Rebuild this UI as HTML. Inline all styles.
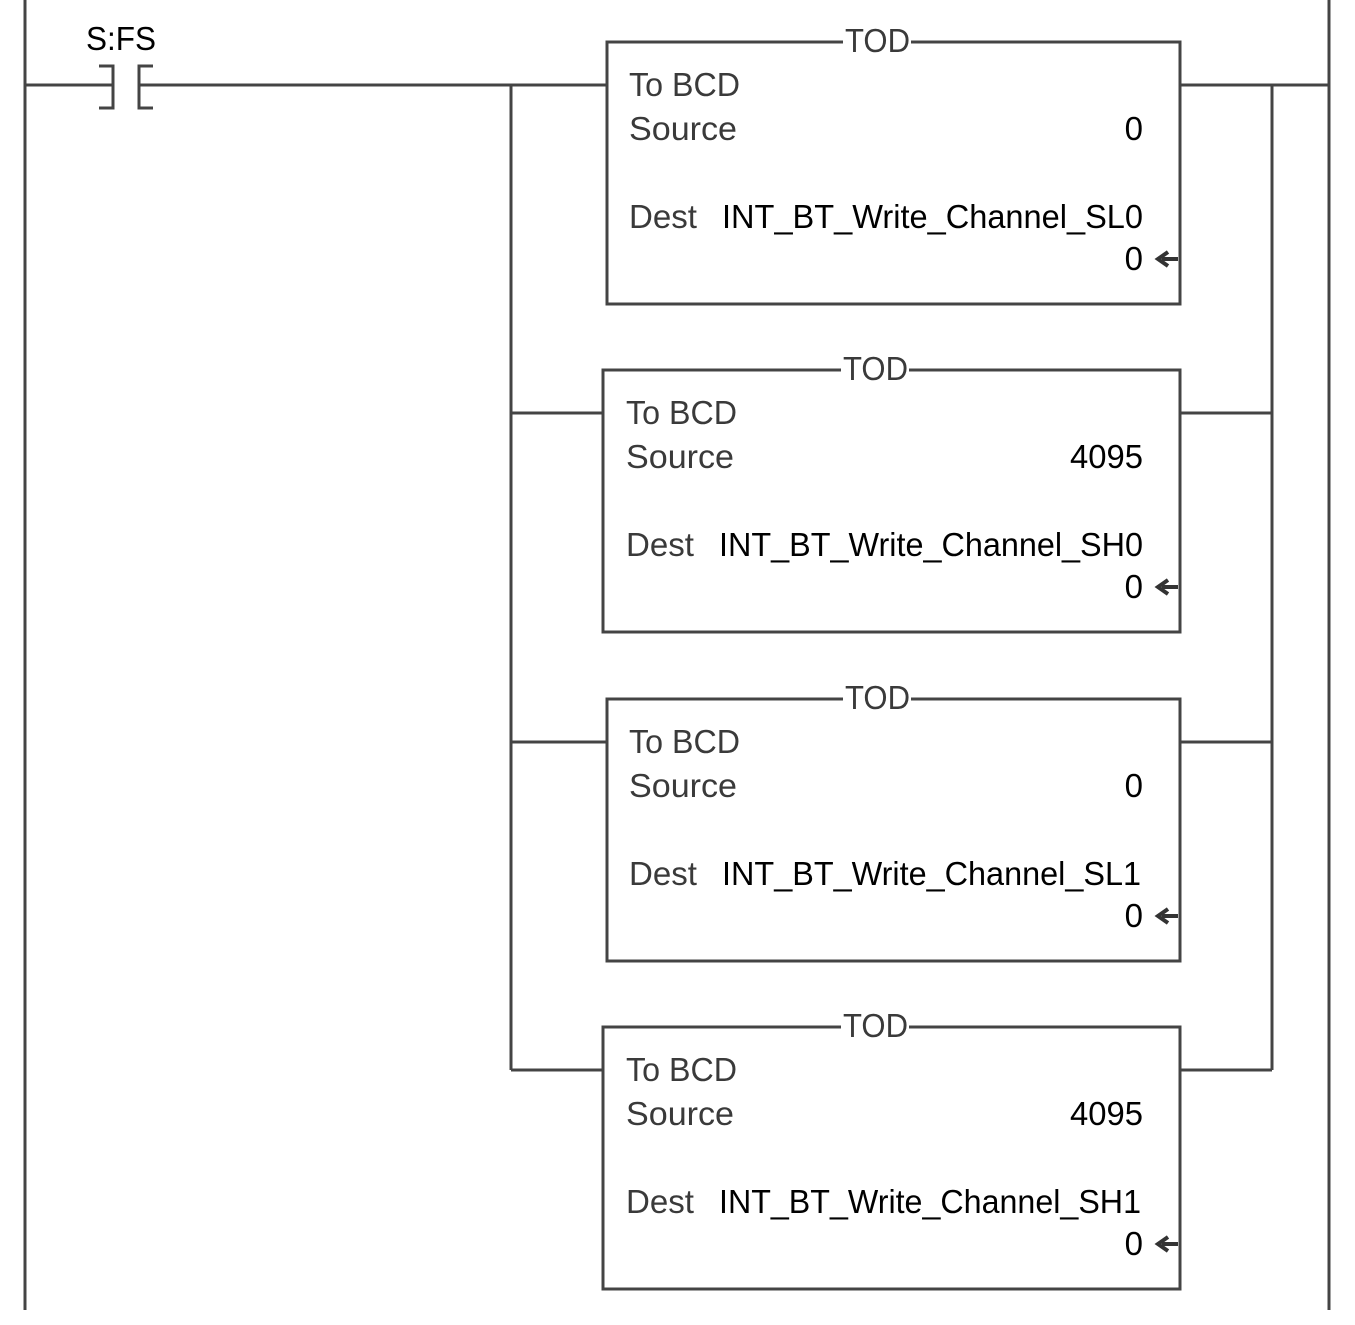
<!DOCTYPE html>
<html><head><meta charset="utf-8"><style>
html,body{margin:0;padding:0;background:#fff;}
svg{display:block;}
text{font-family:"Liberation Sans",Arial,sans-serif;font-size:33px;}
.l{fill:#3a3a3a;}
.v{fill:#000;}
</style></head><body>
<svg width="1355" height="1325" viewBox="0 0 1355 1325" xmlns="http://www.w3.org/2000/svg">
<g stroke="#444" stroke-width="3" fill="none">
<line x1="25" y1="0" x2="25" y2="1310"/>
<line x1="1329" y1="0" x2="1329" y2="1310"/>
<line x1="25" y1="85" x2="113" y2="85"/>
<polyline points="99,66 113,66 113,108 99,108"/>
<polyline points="153,66 139,66 139,108 153,108"/>
<line x1="139" y1="85" x2="607" y2="85"/>
<line x1="511" y1="85" x2="511" y2="1070"/>
<line x1="1180" y1="85" x2="1329" y2="85"/>
<line x1="1272" y1="85" x2="1272" y2="1070"/>
<line x1="511" y1="413" x2="603" y2="413"/>
<line x1="1180" y1="413" x2="1272" y2="413"/>
<line x1="511" y1="742" x2="607" y2="742"/>
<line x1="1180" y1="742" x2="1272" y2="742"/>
<line x1="511" y1="1070" x2="603" y2="1070"/>
<line x1="1180" y1="1070" x2="1272" y2="1070"/>
<rect x="607" y="42" width="573" height="262"/>
<rect x="603" y="370" width="577" height="262"/>
<rect x="607" y="699" width="573" height="262"/>
<rect x="603" y="1027" width="577" height="262"/>
</g>
<text x="86" y="50" class="v" textLength="70" lengthAdjust="spacingAndGlyphs">S:FS</text>

<g>
<rect x="843" y="30" width="68" height="20" fill="#fff"/>
<text x="845" y="52" class="l" textLength="65" lengthAdjust="spacingAndGlyphs">TOD</text>
<text x="629" y="96" class="l" textLength="111" lengthAdjust="spacingAndGlyphs">To BCD</text>
<text x="629" y="140" class="l" textLength="108" lengthAdjust="spacingAndGlyphs">Source</text>
<text x="1143" y="140" class="v" text-anchor="end">0</text>
<text x="629" y="228" class="l" textLength="68" lengthAdjust="spacingAndGlyphs">Dest</text>
<text x="722" y="228" class="v" textLength="421" lengthAdjust="spacingAndGlyphs">INT_BT_Write_Channel_SL0</text>
<text x="1143" y="270" class="v" text-anchor="end">0</text>
<path d="M1178 259 H1162 M1168 252 L1158 259 L1168 266" stroke="#333" stroke-width="4" fill="none"/>
</g>

<g>
<rect x="841" y="358" width="68" height="20" fill="#fff"/>
<text x="843" y="380" class="l" textLength="65" lengthAdjust="spacingAndGlyphs">TOD</text>
<text x="626" y="424" class="l" textLength="111" lengthAdjust="spacingAndGlyphs">To BCD</text>
<text x="626" y="468" class="l" textLength="108" lengthAdjust="spacingAndGlyphs">Source</text>
<text x="1143" y="468" class="v" text-anchor="end" textLength="73" lengthAdjust="spacingAndGlyphs">4095</text>
<text x="626" y="556" class="l" textLength="68" lengthAdjust="spacingAndGlyphs">Dest</text>
<text x="719" y="556" class="v" textLength="424" lengthAdjust="spacingAndGlyphs">INT_BT_Write_Channel_SH0</text>
<text x="1143" y="598" class="v" text-anchor="end">0</text>
<path d="M1178 587 H1162 M1168 580 L1158 587 L1168 594" stroke="#333" stroke-width="4" fill="none"/>
</g>

<g>
<rect x="843" y="687" width="68" height="20" fill="#fff"/>
<text x="845" y="709" class="l" textLength="65" lengthAdjust="spacingAndGlyphs">TOD</text>
<text x="629" y="753" class="l" textLength="111" lengthAdjust="spacingAndGlyphs">To BCD</text>
<text x="629" y="797" class="l" textLength="108" lengthAdjust="spacingAndGlyphs">Source</text>
<text x="1143" y="797" class="v" text-anchor="end">0</text>
<text x="629" y="885" class="l" textLength="68" lengthAdjust="spacingAndGlyphs">Dest</text>
<text x="722" y="885" class="v" textLength="419" lengthAdjust="spacingAndGlyphs">INT_BT_Write_Channel_SL1</text>
<text x="1143" y="927" class="v" text-anchor="end">0</text>
<path d="M1178 916 H1162 M1168 909 L1158 916 L1168 923" stroke="#333" stroke-width="4" fill="none"/>
</g>

<g>
<rect x="841" y="1015" width="68" height="20" fill="#fff"/>
<text x="843" y="1037" class="l" textLength="65" lengthAdjust="spacingAndGlyphs">TOD</text>
<text x="626" y="1081" class="l" textLength="111" lengthAdjust="spacingAndGlyphs">To BCD</text>
<text x="626" y="1125" class="l" textLength="108" lengthAdjust="spacingAndGlyphs">Source</text>
<text x="1143" y="1125" class="v" text-anchor="end" textLength="73" lengthAdjust="spacingAndGlyphs">4095</text>
<text x="626" y="1213" class="l" textLength="68" lengthAdjust="spacingAndGlyphs">Dest</text>
<text x="719" y="1213" class="v" textLength="422" lengthAdjust="spacingAndGlyphs">INT_BT_Write_Channel_SH1</text>
<text x="1143" y="1255" class="v" text-anchor="end">0</text>
<path d="M1178 1244 H1162 M1168 1237 L1158 1244 L1168 1251" stroke="#333" stroke-width="4" fill="none"/>
</g>
</svg>
</body></html>
